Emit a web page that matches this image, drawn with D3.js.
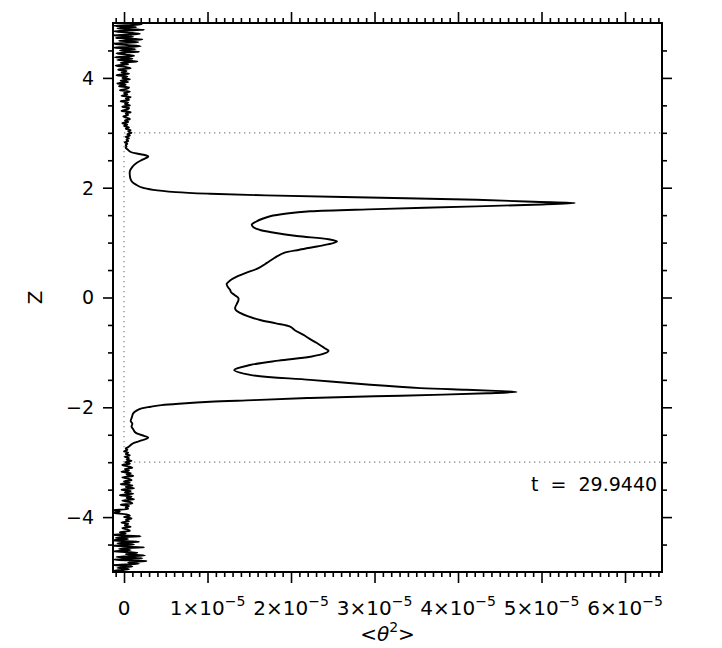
<!DOCTYPE html>
<html><head><meta charset="utf-8">
<script src="https://cdn.jsdelivr.net/npm/d3@7"></script>
<style>
body{margin:0;background:#fff}
svg{display:block}
text{font-family:"DejaVu Sans",sans-serif;fill:#000}
</style>
</head><body>
<svg id="c" width="722" height="648"></svg>
<script>
// ---- data (theta^2 in units of 1e-5, z) ----
const xTickValues = [0, 1, 2, 3, 4, 5, 6];
const xTickMantissa = ["0", "1×10", "2×10", "3×10", "4×10", "5×10", "6×10"];
const xTickExponent = ["", "−5", "−5", "−5", "−5", "−5", "−5"];
const yTickValues = [-4, -2, 0, 2, 4];
const yTickLabels = ["−4", "−2", "0", "2", "4"];
const xTitle = ["<", "θ", "2", ">"];
const yTitle = "Z";
const timeLabel = "t  =  29.9440";
const boundaryZ = [-3, 3];

// central smooth profile
const smoothZ = [-2.725,-2.70,-2.675,-2.65,-2.60,-2.55,-2.52,-2.48,-2.45,-2.40,-2.35,-2.30,-2.25,-2.20,-2.15,-2.11,-2.06,-2.02,-1.99,-1.96,-1.93,-1.90,-1.87,-1.83,-1.80,-1.77,-1.745,-1.72,-1.70,-1.68,-1.65,-1.59,-1.50,-1.41,-1.32,-1.23,-1.15,-1.08,-1.02,-0.97,-0.92,-0.83,-0.75,-0.68,-0.60,-0.53,-0.47,-0.41,-0.34,-0.28,-0.23,-0.19,-0.12,-0.05,-0.01,0.05,0.10,0.14,0.20,0.25,0.31,0.38,0.45,0.52,0.58,0.63,0.72,0.81,0.87,0.93,0.98,1.02,1.06,1.12,1.18,1.23,1.28,1.33,1.38,1.43,1.48,1.53,1.57,1.61,1.66,1.69,1.72,1.745,1.78,1.83,1.86,1.89,1.92,1.96,2.00,2.05,2.10,2.15,2.22,2.30,2.38,2.45,2.51,2.57,2.61,2.65,2.70,2.725];
const smoothV = [0.05,0.07,0.09,0.12,0.22,0.29,0.24,0.16,0.13,0.11,0.09,0.10,0.08,0.09,0.10,0.11,0.15,0.21,0.32,0.45,0.70,1.03,1.55,2.23,3.00,3.82,4.35,4.70,4.45,4.10,3.55,2.95,2.23,1.51,1.32,1.51,1.85,2.23,2.40,2.45,2.40,2.31,2.22,2.15,2.05,1.99,1.82,1.63,1.48,1.39,1.34,1.33,1.35,1.37,1.37,1.32,1.28,1.27,1.24,1.23,1.27,1.35,1.46,1.59,1.66,1.71,1.80,1.91,2.10,2.31,2.48,2.55,2.45,2.07,1.80,1.63,1.55,1.53,1.58,1.65,1.75,1.95,2.23,3.03,4.22,4.90,5.40,4.90,4.22,2.63,1.70,1.03,0.62,0.35,0.22,0.15,0.10,0.08,0.07,0.07,0.10,0.15,0.22,0.29,0.20,0.08,0.04,0.02];

// noisy outer region z = 2.75 .. 5.0 (step 0.025)
const topNoiseStart = 2.75, noiseStep = 0.025;
const topNoiseV = [0.03,0.02,0.04,0.01,0.05,0.03,0.06,0.02,0.07,0.04,
0.09,0.05,0.08,0.02,0.06,0.00,0.04,-0.02,0.05,0.01,
0.07,0.03,-0.01,0.05,0.02,0.08,-0.03,0.04,0.06,-0.02,
0.07,0.01,0.05,-0.04,0.06,0.02,0.08,-0.03,0.04,0.00,
0.07,-0.05,0.03,0.06,-0.06,0.02,-0.08,0.05,-0.04,0.07,
-0.02,0.04,-0.09,0.06,-0.03,0.03,-0.07,0.08,0.01,-0.10,
0.05,-0.04,0.16,-0.08,0.10,-0.11,0.12,0.02,-0.09,0.18,
-0.05,0.14,-0.12,0.20,0.03,-0.13,0.17,-0.06,0.22,-0.10,
0.11,-0.13,0.19,0.04,-0.12,0.24,-0.08,0.15,-0.13,0.21,0.06];
// noisy outer region z = -2.75 .. -5.0 (step -0.025)
const botNoiseStart = -2.75;
const botNoiseV = [0.02,0.04,0.00,0.05,0.02,0.07,0.01,0.06,0.03,0.09,
0.02,0.07,-0.02,0.05,0.10,0.01,0.06,-0.03,0.08,0.03,
0.11,-0.02,0.05,0.09,0.00,0.07,-0.04,0.10,0.02,0.12,
-0.03,0.08,0.01,0.11,-0.05,0.09,0.03,0.12,-0.02,0.07,
0.10,-0.04,0.06,0.02,0.05,-0.13,-0.05,-0.12,0.03,0.07,
0.00,0.09,0.02,0.06,-0.03,0.05,0.01,0.08,-0.02,0.04,
0.07,-0.05,0.02,-0.14,0.20,-0.10,0.05,-0.14,0.18,-0.08,
0.12,-0.14,0.24,-0.06,0.08,-0.13,0.16,0.02,0.25,-0.09,
0.22,-0.12,0.27,0.05,0.18,-0.13,0.10,-0.08,0.06,-0.12,0.03];

// ---- layout ----
const svg = d3.select("#c");
const L = 113, R = 662, T = 23, B = 572;
const x = d3.scaleLinear().domain([-0.132, 6.443]).range([L, R]);
const y = d3.scaleLinear().domain([-5, 5]).range([B, T]);

const pts = [];
botNoiseV.forEach((v, i) => pts.push({z: botNoiseStart - noiseStep * i, v}));
smoothZ.forEach((z, i) => pts.push({z, v: smoothV[i]}));
topNoiseV.forEach((v, i) => pts.push({z: topNoiseStart + noiseStep * i, v}));
pts.sort((a, b) => a.z - b.z);

svg.append("clipPath").attr("id", "clip").append("rect")
  .attr("x", L).attr("y", T).attr("width", R - L).attr("height", B - T);

// dotted guides
const dots = svg.append("g").attr("stroke", "#808080").attr("stroke-width", 1.2)
  .attr("stroke-dasharray", "1.3,3.7").attr("fill", "none");
boundaryZ.forEach(z => dots.append("line")
  .attr("x1", x(0)).attr("x2", R).attr("y1", y(z)).attr("y2", y(z)));
dots.append("line").attr("x1", x(0)).attr("x2", x(0))
  .attr("y1", y(boundaryZ[0])).attr("y2", y(boundaryZ[1]));

// curve
const line = d3.line().x(d => x(d.v)).y(d => y(d.z)).curve(d3.curveCatmullRom.alpha(0.5));
svg.append("path").datum(pts).attr("clip-path", "url(#clip)")
  .attr("d", line).attr("fill", "none").attr("stroke", "#000")
  .attr("stroke-width", 1.9).attr("stroke-linejoin", "round");

// axes ticks
const xMinor = d3.range(-1, 65).map(k => k / 10).filter(v => !xTickValues.includes(v) && v >= -0.132 && v <= 6.443);
const yMinor = d3.range(-9, 10).map(k => k / 2).filter(v => !yTickValues.includes(v));
function styleAxis(g) {
  g.select(".domain").remove();
  g.selectAll(".tick line").attr("stroke", "#000").attr("stroke-width", 1.6);
  g.selectAll(".tick text").remove();
}
svg.append("g").attr("transform", `translate(0,${B})`)
  .call(d3.axisBottom(x).tickValues(xTickValues).tickSize(11).tickSizeOuter(0)).call(styleAxis);
svg.append("g").attr("transform", `translate(0,${B})`)
  .call(d3.axisBottom(x).tickValues(xMinor).tickSize(5).tickSizeOuter(0)).call(styleAxis);
svg.append("g").attr("transform", `translate(0,${T})`)
  .call(d3.axisTop(x).tickValues(xTickValues).tickSize(11).tickSizeOuter(0)).call(styleAxis);
svg.append("g").attr("transform", `translate(0,${T})`)
  .call(d3.axisTop(x).tickValues(xMinor).tickSize(5).tickSizeOuter(0)).call(styleAxis);
svg.append("g").attr("transform", `translate(${L},0)`)
  .call(d3.axisLeft(y).tickValues(yTickValues).tickSize(10).tickSizeOuter(0)).call(styleAxis);
svg.append("g").attr("transform", `translate(${L},0)`)
  .call(d3.axisLeft(y).tickValues(yMinor).tickSize(5).tickSizeOuter(0)).call(styleAxis);
svg.append("g").attr("transform", `translate(${R},0)`)
  .call(d3.axisRight(y).tickValues(yTickValues).tickSize(10).tickSizeOuter(0)).call(styleAxis);
svg.append("g").attr("transform", `translate(${R},0)`)
  .call(d3.axisRight(y).tickValues(yMinor).tickSize(5).tickSizeOuter(0)).call(styleAxis);

// frame
svg.append("rect").attr("x", L).attr("y", T).attr("width", R - L).attr("height", B - T)
  .attr("fill", "none").attr("stroke", "#000").attr("stroke-width", 2);

// x tick labels
xTickValues.forEach((v, i) => {
  const t = svg.append("text").attr("x", x(v)).attr("y", 615)
    .attr("text-anchor", "middle").attr("font-size", 20);
  t.append("tspan").text(xTickMantissa[i]);
  if (xTickExponent[i]) t.append("tspan").attr("dy", -9).attr("font-size", 14).text(xTickExponent[i]);
});
// y tick labels
yTickValues.forEach((v, i) => {
  svg.append("text").attr("x", 94).attr("y", y(v)).attr("dy", "0.36em")
    .attr("text-anchor", "end").attr("font-size", 19).text(yTickLabels[i]);
});
// x title
const xt = svg.append("text").attr("x", (L + R) / 2).attr("y", 641)
  .attr("text-anchor", "middle").attr("font-size", 20);
xt.append("tspan").text(xTitle[0]);
xt.append("tspan").attr("font-style", "italic").text(xTitle[1]);
xt.append("tspan").attr("dy", -9).attr("font-size", 14).text(xTitle[2]);
xt.append("tspan").attr("dy", 9).text(xTitle[3]);
// y title
svg.append("text").attr("transform", `translate(42,${y(0)}) rotate(-90)`)
  .attr("text-anchor", "middle").attr("font-size", 20).text(yTitle);
// time label
svg.append("text").attr("x", 531).attr("y", 491).attr("font-size", 19)
  .style("white-space", "pre").text(timeLabel);
</script>
</body></html>
